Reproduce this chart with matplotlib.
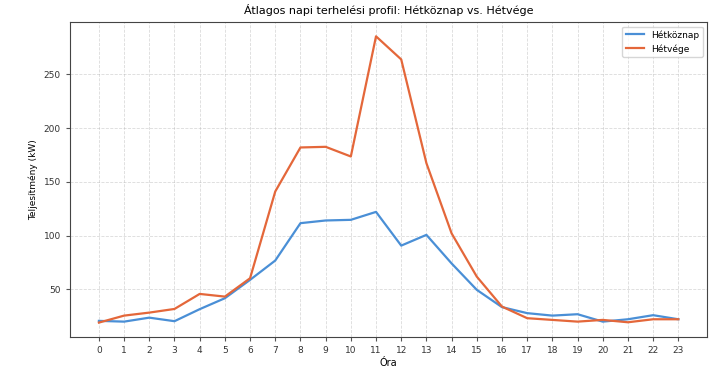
import numpy as np
import matplotlib
matplotlib.use("Agg")
import matplotlib.pyplot as plt

# Órás átlagos terhelés (kW)
orak = list(range(24))
hetkoznap = [20.5, 19.8, 23.5, 20.2, 31.4, 41.6, 58.7, 76.7, 111.5, 114.0, 114.6, 122.0,
             90.6, 100.6, 74.0, 49.4, 33.3, 27.7, 25.4, 26.7, 19.8, 22.0, 25.8, 22.0]
hetvege = [18.9, 25.4, 28.2, 31.6, 45.6, 43.1, 60.2, 141.0, 182.0, 182.6, 173.6, 285.5,
           264.0, 167.4, 102.0, 61.7, 33.8, 23.0, 21.4, 19.8, 21.4, 19.2, 22.0, 22.0]

plt.rcParams['font.family'] = ['DejaVu Sans']

fig, ax = plt.subplots(figsize=(7.21, 3.67), dpi=100)
ax.plot(orak, hetkoznap, color='#4a8fd6', lw=1.6, label='Hétköznap')
ax.plot(orak, hetvege, color='#e4673a', lw=1.6, label='Hétvége')

ax.set_xticks(orak)
ax.tick_params(labelsize=6.5, length=3, color='#555555', labelcolor='#333333')
ax.set_xlabel('Óra', fontsize=7, labelpad=2)
ax.set_ylabel('Teljesítmény (kW)', fontsize=6.5)
ax.set_title('Átlagos napi terhelési profil: Hétköznap vs. Hétvége', fontsize=8)
ax.grid(True, linestyle='--', alpha=0.45, linewidth=0.6)
ax.legend(fontsize=6.5, loc='upper right')
for s in ax.spines.values():
    s.set_color('#444444')

fig.subplots_adjust(left=0.097, right=0.981, top=0.94, bottom=0.082)
plt.savefig('out.png', dpi=100)
